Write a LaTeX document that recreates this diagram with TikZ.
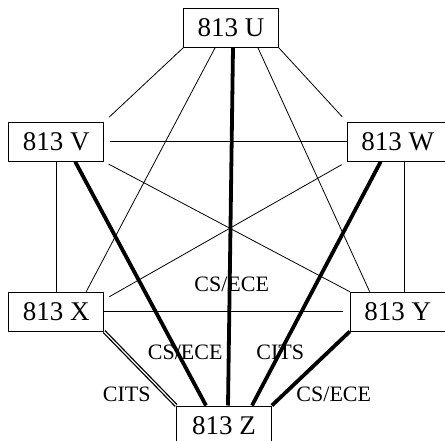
\documentclass[tikz,border=0pt]{standalone}
\usepackage{fontspec}
\setmainfont{Liberation Serif}
\usetikzlibrary{positioning}

\begin{document}
\begin{tikzpicture}[
    x=1pt, y=1pt,
    node distance=74pt and 70pt,
    box/.style={draw, line width=0.8pt, minimum width=95pt, minimum height=39pt,
                inner xsep=14pt, inner ysep=0pt, font=\fontsize{27}{30}\selectfont},
    link/.style={line width=0.8pt},
    heavy/.style={line width=3.8pt},
    twin/.style={double, line width=1.3pt, double distance=1.2pt},
    lbl/.style={font=\fontsize{22}{24}\selectfont, inner sep=0pt}
  ]
    \useasboundingbox (0,0) rectangle (445,-441);
    \node[box] (u) at (231,-28) {813 U};
    \node[box, below left=74pt and 79pt of u] (v) {813 V};
    \node[box, below right=74pt and 68pt of u] (w) {813 W};
    \node[box, below=130pt of v] (x) {813 X};
    \node[box, below=130pt of w] (y) {813 Y};
    \node[box, below right=74pt and 72pt of x] (z) {813 Z};
    % thin links
    \draw[link, shorten >=7pt] (u.south west) -- (v.north east);
    \draw[link, shorten >=7pt] (u.south east) -- (w.north west);
    \draw[link] ([xshift=-16pt]u.south) -- ([xshift=30pt]x.north);
    \draw[link] ([xshift=27pt]u.south) -- ([xshift=-28pt]y.north);
    \draw[link, shorten <=6pt] (v.east) -- (w.west);
    \draw[link] (v) -- (x);
    \draw[link] ([xshift=7pt]w.south) -- ([xshift=7pt]y.north);
    \draw[link, shorten <=5pt] (v.south east) -- (y.north west);
    \draw[link, shorten <=6pt, shorten >=6pt] (w.south west) -- ([yshift=-8pt]x.north east);
    \draw[link, shorten >=7pt] (x.east) -- (y.west);
    % heavy links into z
    \draw[heavy] ([xshift=19pt]v.south) -- node[lbl, pos=0.78, xshift=8pt] {CS/ECE} ([xshift=-18pt]z.north);
    \draw[heavy] ([xshift=2pt]u.south) -- node[lbl, pos=0.66, xshift=2pt] {CS/ECE} ([xshift=4pt]z.north);
    \draw[heavy] ([xshift=-17pt]w.south) -- node[lbl, pos=0.78] {CITS} ([xshift=28pt]z.north);
    \draw[twin] (x.south east) -- node[lbl, pos=0.85, left=14pt] {CITS} (z.north west);
    \draw[heavy] (y.south west) -- node[lbl, pos=0.85, right=11pt] {CS/ECE} (z.north east);
  \end{tikzpicture}
\end{document}
